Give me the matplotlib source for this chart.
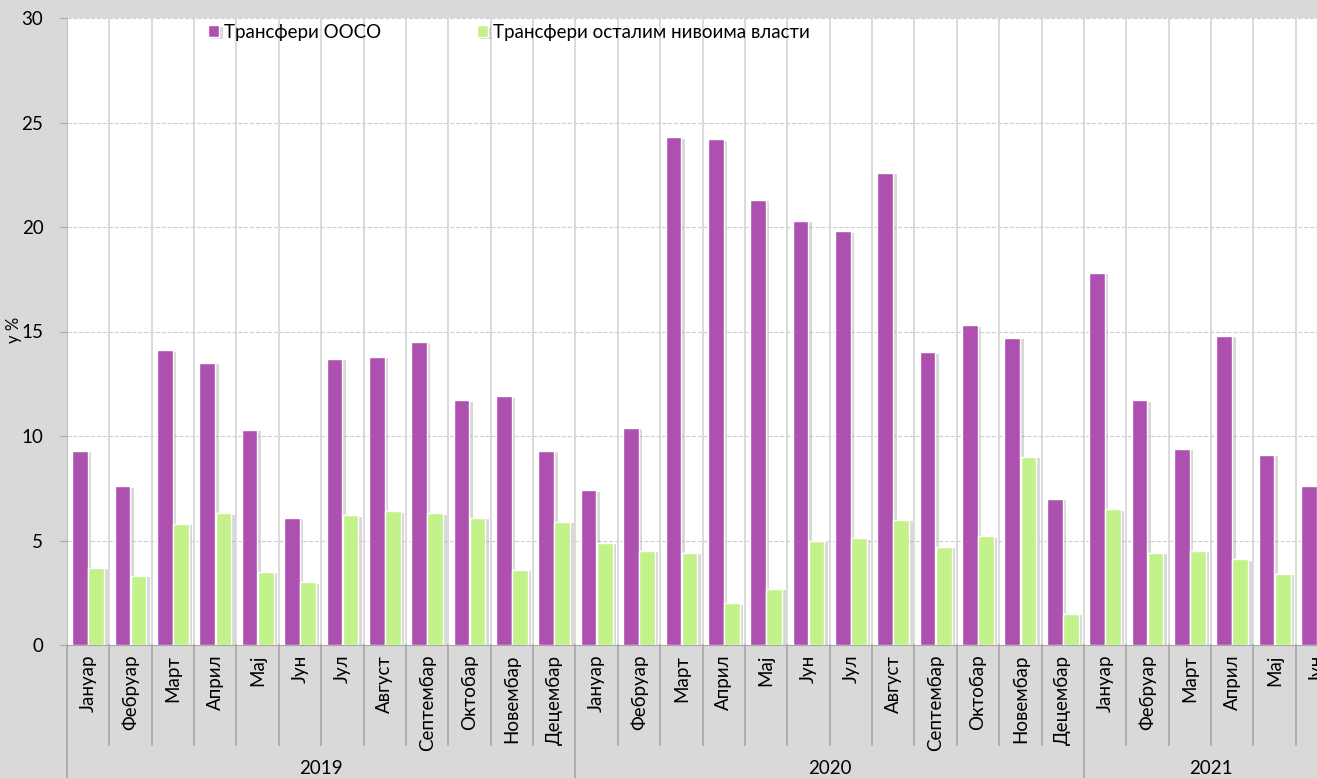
import numpy as np
import matplotlib.pyplot as plt
import matplotlib.patheffects as pe
from matplotlib.transforms import blended_transform_factory

months = ["Јануар", "Фебруар", "Март", "Април", "Мај", "Јун", "Јул", "Август",
          "Септембар", "Октобар", "Новембар", "Децембар"]
years = ["2019", "2020", "2021"]
labels = months + months + months[:6]

ooso = [9.3, 7.6, 14.1, 13.5, 10.3, 6.1, 13.7, 13.8, 14.5, 11.7, 11.9, 9.3,
        7.4, 10.4, 24.3, 24.2, 21.3, 20.3, 19.8, 22.6, 14.0, 15.3, 14.7, 7.0,
        17.8, 11.7, 9.4, 14.8, 9.1, 7.6]
other = [3.7, 3.3, 5.8, 6.3, 3.5, 3.0, 6.2, 6.4, 6.3, 6.1, 3.6, 5.9,
         4.9, 4.5, 4.4, 2.0, 2.7, 5.0, 5.1, 6.0, 4.7, 5.2, 9.0, 1.5,
         6.5, 4.4, 4.5, 4.1, 3.4, np.nan]

plt.rcParams["font.family"] = ["Lato", "DejaVu Sans"]
fs = 13.5

purple = "#ad50b0"
green = "#c4f28a"
grey_bg = "#d9d9d9"

fig = plt.figure(figsize=(13.17, 7.78), dpi=100, facecolor=grey_bg)
W, H = 1317, 778
ax = fig.add_axes([67 / W, (H - 645) / H, (W - 67) / W, (645 - 18) / H])

x = np.arange(len(labels))
shadow = [pe.SimplePatchShadow(offset=(2.5, -1), shadow_rgbFace="#808080", alpha=0.3), pe.Normal()]

b1 = ax.bar(x - 0.19, ooso, width=0.37, color=purple, edgecolor="white",
            linewidth=1, label="Трансфери ООСО", zorder=3)
b2 = ax.bar(x + 0.19, other, width=0.37, color=green, edgecolor="white",
            linewidth=1, label="Трансфери осталим нивоима власти", zorder=3)
for r in list(b1) + list(b2):
    r.set_path_effects(shadow)

ncat = (W - 67) / 42.6
ax.set_xlim(-0.5, -0.5 + ncat)
ax.set_ylim(0, 30)
ax.set_yticks(range(0, 31, 5))
fig.text(14 / W, (H - 330) / H, "у %", rotation=90, ha="center", va="center", fontsize=fs - 1.5)

# grid
for v in range(5, 31, 5):
    ax.axhline(v, color="#cfcfcf", linestyle="--", linewidth=0.8, zorder=1)
for b in np.arange(0.5, len(labels), 1):
    ax.axvline(b, color="#d4d4d4", linewidth=1.2, zorder=1)

for s in ["top", "right"]:
    ax.spines[s].set_visible(False)
ax.spines["left"].set_color("#bfbfbf")
ax.spines["bottom"].set_color("#a6a6a6")
ax.tick_params(axis="y", labelsize=fs, color="#a6a6a6", length=5, pad=12)

ax.set_xticks(x)
ax.set_xticklabels(labels, rotation=90, fontsize=fs, va="top")
ax.tick_params(axis="x", length=0, pad=7)

# category separators below the axis
tr = blended_transform_factory(ax.transData, ax.transAxes)
axh = 645 - 18
for b in np.arange(-0.5, len(labels), 1):
    if b in (-0.5, 11.5, 23.5):
        y_end = -(H - 645) / axh
    else:
        y_end = -100 / axh
    ax.plot([b, b], [0, y_end], transform=tr, color="#a6a6a6", linewidth=1.2, clip_on=False)

ax.text(5.5, -123 / axh, years[0], transform=tr, ha="center", va="center", fontsize=fs)
ax.text(17.5, -123 / axh, years[1], transform=tr, ha="center", va="center", fontsize=fs)
ax.text(26.5, -123 / axh, years[2], transform=tr, ha="center", va="center", fontsize=fs)

ax.legend(loc="upper left", bbox_to_anchor=((208 - 67) / 1250, 1 - 6 / axh), ncol=2,
          frameon=False, fontsize=fs, handlelength=0.6, handleheight=0.6,
          handletextpad=0.25, columnspacing=5.1, borderaxespad=0, borderpad=0)

fig.savefig("out.png", dpi=100, facecolor=grey_bg)
